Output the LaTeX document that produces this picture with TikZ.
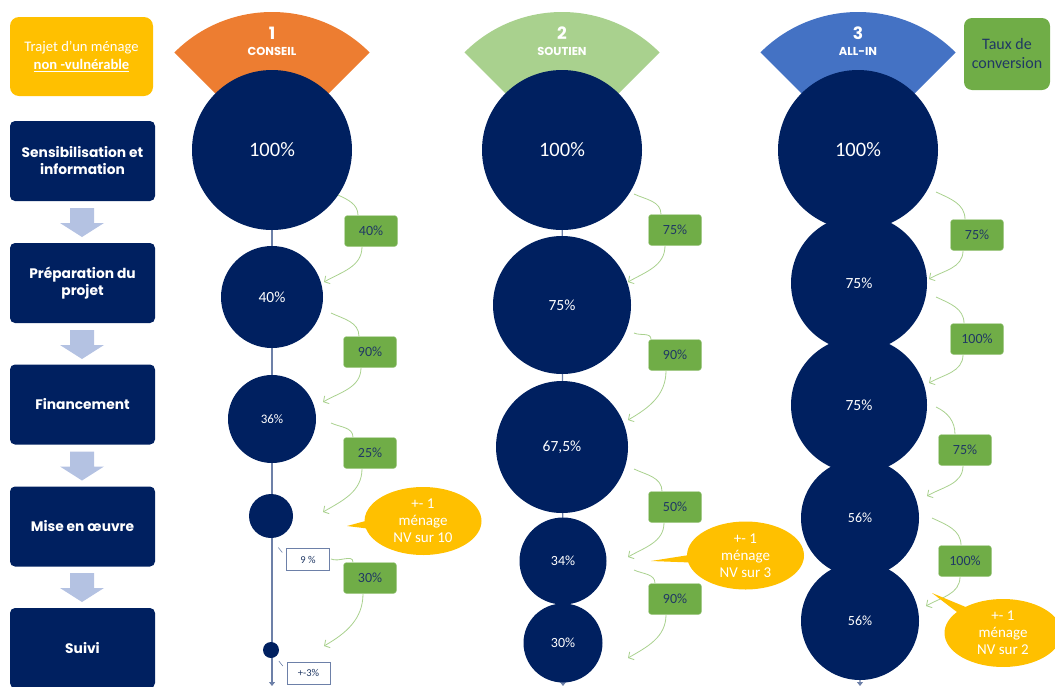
\documentclass[tikz,border=0pt]{standalone}
\usepackage{fontspec}
\setmainfont{Carlito}
\newfontfamily\popfont{Poppins}
\usetikzlibrary{arrows.meta,shapes.callouts,backgrounds}
\definecolor{navy}{HTML}{002060}
\definecolor{gold}{HTML}{FFC000}
\definecolor{leaf}{HTML}{70AD47}
\definecolor{mint}{HTML}{A9D18E}
\definecolor{tangerine}{HTML}{ED7D31}
\definecolor{sky}{HTML}{4472C4}
\definecolor{ink}{HTML}{203864}
\definecolor{pale}{HTML}{B4C2E2}
\definecolor{steel}{HTML}{6D80A8}
\newcommand{\fs}[2]{\fontsize{#1}{#2}\selectfont}
\begin{document}
\begin{tikzpicture}[x=1pt,y=-1pt,
	stage/.style={fill=navy,rounded corners=5pt,minimum width=145pt,minimum height=80pt,text=white,align=center,font=\popfont\bfseries\fs{13.8}{17}},
	ball/.style={circle,fill=navy,text=white,inner sep=0pt,minimum size=#1},
	rate/.style={fill=leaf,draw=leaf!60!white,rounded corners=3pt,minimum width=53pt,minimum height=31pt,text=ink,font=\fs{14}{15}},
	bubble/.style={ellipse callout,fill=gold,text=white,align=center,minimum width=117pt,minimum height=68pt,inner sep=0pt,callout pointer arc=12,font=\fs{15}{17}},
	tag/.style={draw=steel,fill=white,minimum width=43pt,minimum height=22pt,inner sep=0pt,text=ink,font=\fs{10.5}{11}},
	flow/.style={mint,line width=0.8pt,-{Straight Barb[length=4pt,width=9pt]}},
	axis/.style={steel,line width=1.3pt,-{Triangle[length=4pt,width=6pt]}}]
\useasboundingbox (0,0) rectangle (1055,686);
% fans behind the first circles
\foreach \x/\c in {272/tangerine,562/mint,858/sky}
	\fill[\c] (\x,150) -- +(45:138pt) arc[start angle=45,end angle=135,radius=138pt] -- cycle;
\foreach \x/\num/\txt in {272/1/CONSEIL,562/2/SOUTIEN,858/3/ALL-IN}
{
	\node[text=white,font=\popfont\bfseries\fs{17}{17}] (n\num) at (\x,33) {\num};
	\node[text=white,font=\popfont\bfseries\fs{11.5}{12}] (h\num) at (\x,51) {\txt};
}
\node[fill=gold,rounded corners=9pt,minimum width=143pt,minimum height=79pt,text=white,align=center,font=\fs{14.6}{18}] (trajet) at (81.5,56.5) {Trajet d’un ménage\\\underline{\textbf{non -vulnérable}}};
\node[fill=leaf,rounded corners=8pt,minimum width=86pt,minimum height=72pt,text=ink,align=center,font=\fs{16}{19}] (taux) at (1007,54) {Taux de\\conversion};
% steps
\node[stage] (s1) at (82.5,161) {Sensibilisation et\\information};
\node[stage] (s2) at (82.5,283) {Préparation du\\projet};
\node[stage] (s3) at (82.5,404.5) {Financement};
\node[stage] (s4) at (82.5,526.5) {Mise en œuvre};
\node[stage] (s5) at (82.5,648) {Suivi};
\foreach \y in {222,344,465.5,587}
	\fill[pale] (70,\y-14) -- (94,\y-14) -- (94,\y+1) -- (104,\y+1) -- (82,\y+15) -- (60,\y+1) -- (70,\y+1) -- cycle;
% circles
\node[ball=160pt,font=\fs{20.5}{20}] (c11) at (272,150) {100\%};
\node[ball=102pt,font=\fs{15.5}{15}] (c12) at (272,297) {40\%};
\node[ball=88pt,font=\fs{13}{13}] (c13) at (272,419) {36\%};
\node[ball=44pt] (c14) at (271,516) {};
\node[ball=16pt] (c15) at (271,650) {};
\node[ball=160pt,font=\fs{20.5}{20}] (c21) at (562,150) {100\%};
\node[ball=138pt,font=\fs{15.5}{15}] (c22) at (562,305) {75\%};
\node[ball=132pt,font=\fs{15.5}{15}] (c23) at (562,447) {67,5\%};
\node[ball=87pt,font=\fs{14}{14}] (c24) at (563,561) {34\%};
\node[ball=79pt,font=\fs{14}{14}] (c25) at (563,643) {30\%};
\node[ball=160pt,font=\fs{20.5}{20}] (c31) at (858,150) {100\%};
\node[ball=136pt,font=\fs{15.5}{15}] (c32) at (859,283) {75\%};
\node[ball=136pt,font=\fs{15.5}{15}] (c33) at (859,405) {75\%};
\node[ball=118pt,font=\fs{14}{14}] (c34) at (860,518) {56\%};
\node[ball=118pt,font=\fs{14}{14}] (c35) at (860,621) {56\%};
\coordinate (e1) at (272,686);
\coordinate (e2) at (563,686);
\coordinate (e3) at (860,686);
\begin{scope}[on background layer]
\foreach \k in {1,2,3}
	\draw[axis] (c\k1.center) -- (e\k);
\end{scope}
% small tags
\node[tag] (g1) at (308,559.5) {9 \%};
\node[tag] (g2) at (308.5,673) {+-3\%};
\foreach \g in {g1,g2}
	\draw[steel,line width=0.6pt] ([shift={(-8,-12)}]\g.west) -- +(4,5);
% conversion rates
\foreach \nm/\x/\y/\lab/\sx/\sy/\a/\b/\tx/\ty in {
	r11/371/231/40\%/338/195/-13/-9/324/282,
	r12/370/352/90\%/331/313/-11/-9/323/402,
	r13/370/453/25\%/331/423/-17/-8/323/512,
	r14/370/578/30\%/331/559/-17/-7/324/646,
	r21/675/230/75\%/634/194/-14/-10/628/282,
	r22/675/355/90\%/634/333/-24/-9/628/420,
	r23/675/507/50\%/634/469/-13/-11/628/557,
	r24/675/599/90\%/634/570/-20/-9/628/658,
	r31/977/235/75\%/936/192/-12/-14/929/279,
	r32/977/339/100\%/936/297/-13/-14/929/383,
	r33/965/450/75\%/936/407/-10/-2/927/496,
	r34/965/561/100\%/932/518/-4/-5/926/606}
{
	\node[rate] (\nm) at (\x,\y) {\lab};
	\coordinate (\nm a) at (\sx,\sy);
	\coordinate (\nm b) at (\tx,\ty);
	\draw[flow] (\nm a) to[out=-25,in=90] ([xshift=\a pt]\nm.north) ([xshift=\b pt]\nm.south) to[out=-90,in=30] (\nm b);
}
% bubbles
\coordinate (p1) at (347,526);
\coordinate (p2) at (651,561);
\coordinate (p3) at (932,593);
\node[bubble,callout absolute pointer={(p1)}] (b1) at (423,521) {+- 1\\ménage\\NV sur 10};
\node[bubble,callout absolute pointer={(p2)}] (b2) at (745.5,555.5) {+- 1\\ménage\\NV sur 3};
\node[bubble,callout absolute pointer={(p3)}] (b3) at (1003,633) {+- 1\\ménage\\NV sur 2};
\end{tikzpicture}
\end{document}
